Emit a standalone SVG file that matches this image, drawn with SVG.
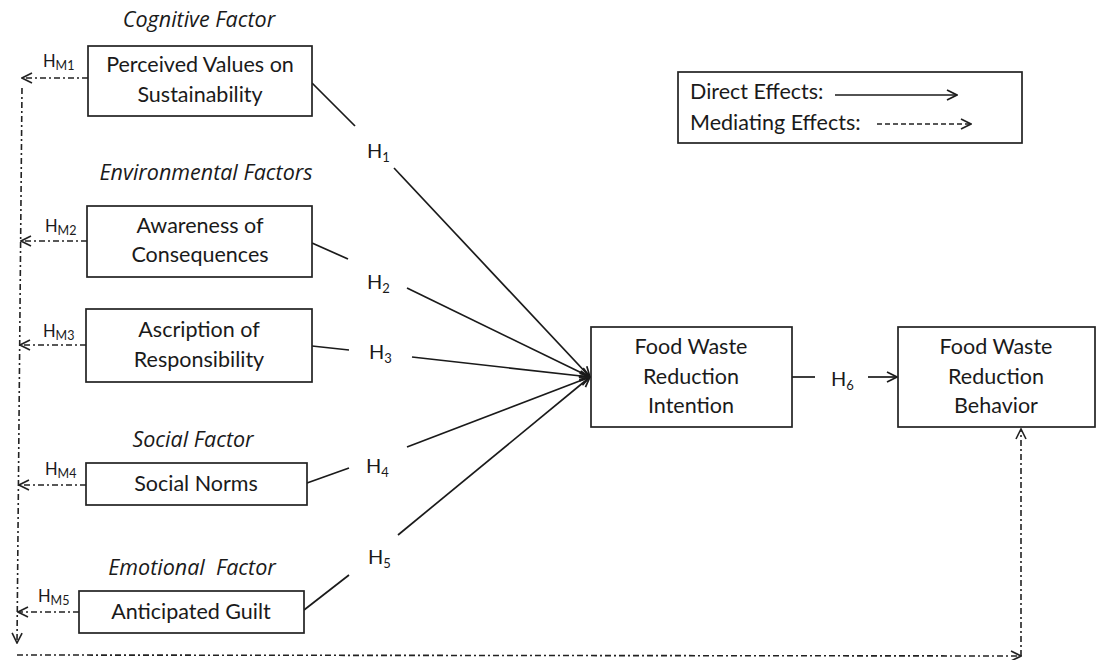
<svg xmlns="http://www.w3.org/2000/svg" width="1115" height="660" viewBox="0 0 1115 660">
<style>
.box{fill:#fff;stroke:#222;stroke-width:1.7}
.t{font-family:Lato,"Open Sans",sans-serif;font-size:21.5px;fill:#1a1a1a;text-anchor:middle}
.it{font-family:"Open Sans",Lato,sans-serif;font-size:21.5px;font-style:italic;fill:#1a1a1a;text-anchor:middle}
.h{font-family:Lato,"Open Sans",sans-serif;font-size:20px;fill:#1a1a1a}
.hm{font-family:Lato,"Open Sans",sans-serif;font-size:16.5px;fill:#1a1a1a}
.sub{font-size:13px}
.subm{font-size:12.5px}
.solid{stroke:#1a1a1a;stroke-width:1.7;fill:none}
.med{stroke:#222;stroke-width:1.6;fill:none;stroke-dasharray:6 3 2 3}
.dash{stroke:#222;stroke-width:1.6;fill:none;stroke-dasharray:5 3}
</style>
<defs>
<marker id="ar" viewBox="0 0 12 12" refX="11" refY="6" markerWidth="12" markerHeight="12" markerUnits="userSpaceOnUse" orient="auto">
<path d="M1,1 L11,6 L1,11" fill="none" stroke="#1a1a1a" stroke-width="1.7"/>
</marker>
<marker id="am" viewBox="0 0 12 12" refX="11" refY="6" markerWidth="12" markerHeight="12" markerUnits="userSpaceOnUse" orient="auto">
<path d="M1,1 L11,6 L1,11" fill="none" stroke="#222" stroke-width="1.6"/>
</marker>
</defs>

<g id="labels">
<text class="it" x="199" y="27">Cognitive Factor</text>
<text class="it" x="206" y="180">Environmental Factors</text>
<text class="it" x="193" y="447">Social Factor</text>
<text class="it" x="192" y="575" xml:space="preserve">Emotional  Factor</text>
</g>

<g id="connectors">
<line class="solid" x1="312" y1="83" x2="355" y2="126"/>
<line class="solid" x1="394" y1="168" x2="590" y2="377" marker-end="url(#ar)"/>
<line class="solid" x1="312" y1="243" x2="348" y2="259"/>
<line class="solid" x1="407" y1="288" x2="590" y2="377" marker-end="url(#ar)"/>
<line class="solid" x1="312" y1="346" x2="349" y2="350"/>
<line class="solid" x1="412" y1="357" x2="590" y2="377" marker-end="url(#ar)"/>
<line class="solid" x1="307" y1="483" x2="349" y2="468"/>
<line class="solid" x1="407" y1="447" x2="590" y2="377" marker-end="url(#ar)"/>
<line class="solid" x1="304" y1="610" x2="349" y2="575"/>
<line class="solid" x1="398" y1="535" x2="590" y2="377" marker-end="url(#ar)"/>
<line class="solid" x1="792" y1="377" x2="815" y2="377"/>
<line class="solid" x1="868" y1="377" x2="897" y2="377" marker-end="url(#ar)"/>
<line class="med" x1="88" y1="78" x2="22" y2="78" marker-end="url(#am)"/>
<line class="med" x1="87" y1="241" x2="21" y2="241" marker-end="url(#am)"/>
<line class="med" x1="86" y1="345" x2="20" y2="345" marker-end="url(#am)"/>
<line class="med" x1="86" y1="485" x2="19" y2="485" marker-end="url(#am)"/>
<line class="med" x1="79" y1="612" x2="18" y2="612" marker-end="url(#am)"/>
<line class="med" x1="22" y1="88" x2="17" y2="643" marker-end="url(#am)"/>
<line class="med" x1="17" y1="655" x2="1021" y2="656" marker-end="url(#am)"/>
<line class="med" x1="1021" y1="656" x2="1021" y2="429" marker-end="url(#am)"/>
</g>

<g id="hlabels">
<text class="h" x="367" y="158">H<tspan class="sub" dy="4">1</tspan></text>
<text class="h" x="367" y="289">H<tspan class="sub" dy="4">2</tspan></text>
<text class="h" x="369" y="359">H<tspan class="sub" dy="4">3</tspan></text>
<text class="h" x="366" y="473">H<tspan class="sub" dy="4">4</tspan></text>
<text class="h" x="368" y="564">H<tspan class="sub" dy="4">5</tspan></text>
<text class="h" x="831" y="386">H<tspan class="sub" dy="4">6</tspan></text>
<text class="hm" x="43" y="67">H<tspan class="subm" dy="3">M1</tspan></text>
<text class="hm" x="45" y="232">H<tspan class="subm" dy="3">M2</tspan></text>
<text class="hm" x="43" y="337">H<tspan class="subm" dy="3">M3</tspan></text>
<text class="hm" x="45" y="475">H<tspan class="subm" dy="3">M4</tspan></text>
<text class="hm" x="38" y="602">H<tspan class="subm" dy="3">M5</tspan></text>
</g>

<g id="pvs">
<rect class="box" x="88" y="46" width="224" height="70"/>
<text class="t" x="200" y="72">Perceived Values on</text>
<text class="t" x="200" y="102">Sustainability</text>
</g>
<g id="awareness">
<rect class="box" x="87" y="206" width="225" height="71"/>
<text class="t" x="200" y="233">Awareness of</text>
<text class="t" x="200" y="262">Consequences</text>
</g>
<g id="ascription">
<rect class="box" x="86" y="309" width="226" height="73"/>
<text class="t" x="199" y="337">Ascription of</text>
<text class="t" x="199" y="367">Responsibility</text>
</g>
<g id="social-norms">
<rect class="box" x="86" y="463" width="221" height="42"/>
<text class="t" x="196" y="491">Social Norms</text>
</g>
<g id="anticipated-guilt">
<rect class="box" x="79" y="591" width="225" height="42"/>
<text class="t" x="191" y="619">Anticipated Guilt</text>
</g>
<g id="fwri">
<rect class="box" x="591" y="327" width="201" height="100"/>
<text class="t" x="691" y="354">Food Waste</text>
<text class="t" x="691" y="384">Reduction</text>
<text class="t" x="691" y="413">Intention</text>
</g>
<g id="fwrb">
<rect class="box" x="898" y="327" width="197" height="100"/>
<text class="t" x="996" y="354">Food Waste</text>
<text class="t" x="996" y="384">Reduction</text>
<text class="t" x="996" y="413">Behavior</text>
</g>
<g id="legend">
<rect class="box" x="678" y="72" width="344" height="71"/>
<text class="t" x="690" y="99" style="text-anchor:start">Direct Effects:</text>
<line class="solid" x1="835" y1="95" x2="957" y2="95" marker-end="url(#ar)"/>
<text class="t" x="690" y="130" style="text-anchor:start">Mediating Effects:</text>
<line class="dash" x1="877" y1="124" x2="971" y2="124" marker-end="url(#am)"/>
</g>
</svg>
